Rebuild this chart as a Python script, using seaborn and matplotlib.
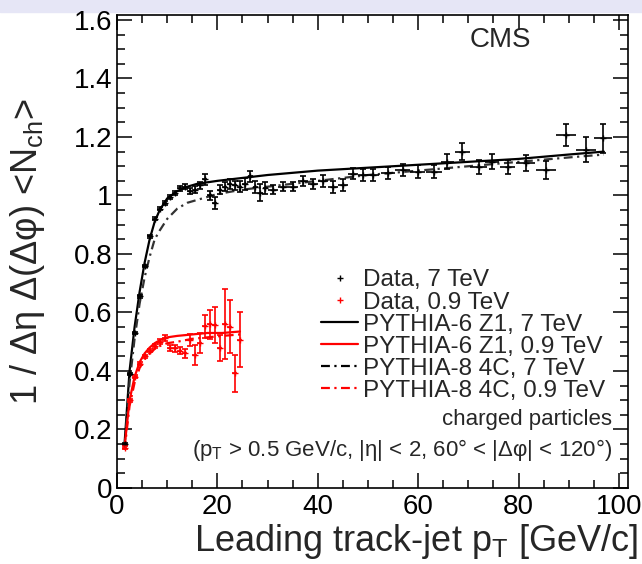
import seaborn as sns
import matplotlib.pyplot as plt
from matplotlib.lines import Line2D
from matplotlib.patches import Rectangle

# --- data, 7 TeV ---
pt_7 = [1.5, 2.5, 3.5, 4.5, 5.5, 6.5, 7.5, 8.5, 9.5, 10.5, 11.5, 12.5, 13.5, 14.5,
        15.5, 16.5, 17.5, 18.5, 19.5, 20.5, 21.5, 22.5, 23.5, 24.5, 25.5, 26.5,
        27.5, 28.5, 29.5, 31, 33, 35, 37, 39, 41, 43, 45, 47, 49, 51.0, 53.9,
        56.9, 59.9, 63.2, 65.8, 68.8, 72.1, 74.8, 77.8, 81.4, 85.4, 89.4, 93.4, 96.9]
dpt_7 = [0.5, 0.5, 0.5, 0.5, 0.5, 0.5, 0.5, 0.5, 0.5, 0.5, 0.5, 0.5, 0.5, 0.5,
         0.5, 0.5, 0.5, 0.5, 0.5, 0.5, 0.5, 0.5, 0.5, 0.5, 0.5, 0.5, 0.5, 0.5,
         0.5, 1.0, 1.0, 1.0, 1.0, 1.0, 1.0, 1.0, 1.0, 1.0, 1.0, 1.2, 1.4, 1.5,
         1.5, 1.6, 1.3, 1.5, 1.7, 1.4, 1.5, 1.9, 2.0, 2.0, 2.0, 1.8]
n_7 = [0.15, 0.39, 0.53, 0.655, 0.76, 0.86, 0.92, 0.955, 0.975, 0.995, 1.01, 1.025,
       1.03, 1.015, 1.02, 1.035, 1.055, 1.0, 0.975, 1.02, 1.03, 1.04, 1.035, 1.03,
       1.04, 1.065, 1.03, 1.01, 1.025, 1.02, 1.03, 1.03, 1.05, 1.04, 1.05, 1.03,
       1.035, 1.075, 1.07, 1.07, 1.078, 1.086, 1.081, 1.081, 1.116, 1.15, 1.098,
       1.116, 1.098, 1.11, 1.087, 1.207, 1.156, 1.196]
err_7 = [0.004, 0.004, 0.004, 0.004, 0.004, 0.005, 0.005, 0.005, 0.006, 0.006,
         0.007, 0.008, 0.009, 0.01, 0.011, 0.012, 0.02, 0.015, 0.02, 0.015, 0.015,
         0.018, 0.015, 0.018, 0.02, 0.02, 0.02, 0.03, 0.02, 0.015, 0.015, 0.015,
         0.018, 0.018, 0.02, 0.02, 0.02, 0.02, 0.02, 0.02, 0.02, 0.02, 0.022,
         0.022, 0.025, 0.028, 0.025, 0.025, 0.025, 0.028, 0.03, 0.037, 0.043, 0.05]

# --- data, 0.9 TeV ---
pt_09 = [1.5, 2.5, 3.5, 4.5, 5.5, 6.5, 7.5, 8.5, 9.5, 10.5, 11.5, 12.5, 13.5,
         14.5, 15.5, 16.5, 17.5, 18.5, 19.5, 20.5, 21.5, 22.5, 23.5, 24.5]
n_09 = [0.137, 0.30, 0.38, 0.425, 0.45, 0.47, 0.485, 0.50, 0.513, 0.48, 0.478,
        0.47, 0.46, 0.505, 0.455, 0.495, 0.553, 0.56, 0.557, 0.478, 0.56, 0.551,
        0.392, 0.506]
err_09 = [0.005, 0.005, 0.005, 0.005, 0.006, 0.006, 0.007, 0.008, 0.009, 0.01,
          0.012, 0.013, 0.015, 0.02, 0.034, 0.034, 0.04, 0.05, 0.063, 0.045, 0.12,
          0.09, 0.063, 0.094]

# --- PYTHIA curves ---
pt_mc_7 = [1.5, 2.5, 3.5, 4.5, 5.5, 6.5, 7.5, 8.5, 10, 12, 14, 16, 20, 25, 30, 40,
           50, 60, 70, 80, 90, 97]
z1_7 = [0.15, 0.40, 0.55, 0.67, 0.77, 0.85, 0.91, 0.95, 0.99, 1.015, 1.03, 1.04,
        1.05, 1.06, 1.07, 1.085, 1.095, 1.105, 1.115, 1.125, 1.14, 1.15]
c4_7 = [0.14, 0.36, 0.51, 0.63, 0.72, 0.79, 0.85, 0.88, 0.92, 0.955, 0.975, 0.985,
        1.005, 1.02, 1.03, 1.05, 1.07, 1.085, 1.10, 1.115, 1.13, 1.14]
pt_mc_09 = [1.5, 2.5, 3.5, 4.5, 5.5, 6.5, 7.5, 8.5, 10, 12, 15, 18, 21, 24.5]
z1_09 = [0.14, 0.30, 0.38, 0.43, 0.46, 0.48, 0.495, 0.505, 0.515, 0.52, 0.525,
         0.53, 0.53, 0.535]
c4_09 = [0.13, 0.28, 0.36, 0.41, 0.44, 0.46, 0.475, 0.485, 0.495, 0.50, 0.51,
         0.515, 0.52, 0.525]

x_ticks = [0, 20, 40, 60, 80, 100]
x_labels = ["0", "20", "40", "60", "80", "100"]
y_ticks = [0, 0.2, 0.4, 0.6, 0.8, 1.0, 1.2, 1.4, 1.6]
y_labels = ["0", "0.2", "0.4", "0.6", "0.8", "1", "1.2", "1.4", "1.6"]

sns.set_style("ticks")
plt.rcParams["font.family"] = ["Liberation Sans", "DejaVu Sans"]
plt.rcParams["mathtext.fontset"] = "custom"
plt.rcParams["mathtext.rm"] = "Liberation Sans"
plt.rcParams["mathtext.it"] = "Liberation Sans:italic"

fig = plt.figure(figsize=(6.42, 5.64), dpi=100)
# light band at the top of the screenshot
fig.patches.append(Rectangle((0, 1 - 12 / 564), 1, 12 / 564, transform=fig.transFigure,
                             color="#e6e6f6", zorder=-1))
ax = fig.add_axes([117 / 642, 1 - 488 / 564, 511 / 642, 473 / 564])

dash4c = (0, (4, 2, 1, 2))

# model curves
sns.lineplot(x=pt_mc_7, y=z1_7, ax=ax, color="black", lw=1.6, estimator=None, sort=False)
sns.lineplot(x=pt_mc_7, y=c4_7, ax=ax, color="#333333", lw=1.6, linestyle=dash4c,
             estimator=None, sort=False)
sns.lineplot(x=pt_mc_09, y=z1_09, ax=ax, color="red", lw=1.6, estimator=None, sort=False)
sns.lineplot(x=pt_mc_09, y=c4_09, ax=ax, color="red", lw=1.6, linestyle=dash4c,
             estimator=None, sort=False)

# data points
ax.errorbar(pt_7, n_7, yerr=err_7, fmt="+", color="black", ms=5, elinewidth=1.2,
            capsize=2, capthick=1.2, zorder=5)
ax.errorbar(pt_7, n_7, xerr=dpt_7, fmt="none", ecolor="black", elinewidth=1.2, zorder=5)
ax.errorbar(pt_09, n_09, yerr=err_09, fmt="+", color="red", ms=5, elinewidth=1.2,
            capsize=2, capthick=1.2, zorder=5)
ax.errorbar(pt_09, n_09, xerr=0.5, fmt="none", ecolor="red", elinewidth=1.2, zorder=5)

ax.set_xlim(0, 101.8)
ax.set_ylim(0, 1.617)
ax.set_xticks(x_ticks)
ax.set_xticklabels(x_labels)
ax.set_yticks(y_ticks)
ax.set_yticklabels(y_labels)
ax.set_xticks(range(0, 101, 5), minor=True)
ax.set_yticks([i * 0.05 for i in range(33)], minor=True)
ax.tick_params(which="both", direction="in", top=True, right=True, width=1.1,
               colors="black", labelsize=20)
ax.tick_params(which="major", length=11)
ax.tick_params(which="minor", length=5.5)
ax.tick_params(axis="x", pad=4)
for s in ax.spines.values():
    s.set_linewidth(1.2)
    s.set_color("black")

ax.set_xlabel(r"Leading track-jet p$_{\mathrm{T}}$ [GeV/c]", fontsize=26)
ax.xaxis.label.set_ha("right")
ax.xaxis.set_label_coords(1.02, -0.072)
ax.set_ylabel(r"1 / Δη Δ(Δφ) <N$_{\mathrm{ch}}$>", fontsize=26)
ax.yaxis.set_label_coords(-0.137, 0.5)

# legend (tight rows, like the ROOT original)
handles = [
    Line2D([], [], ls="none", marker="+", color="black", ms=5),
    Line2D([], [], ls="none", marker="+", color="red", ms=5),
    Line2D([], [], color="black", lw=1.6),
    Line2D([], [], color="red", lw=1.6),
    Line2D([], [], color="black", lw=1.6, ls=dash4c),
    Line2D([], [], color="red", lw=1.6, ls=dash4c),
]
labels = ["Data, 7 TeV", "Data, 0.9 TeV", "PYTHIA-6 Z1, 7 TeV", "PYTHIA-6 Z1, 0.9 TeV",
          "PYTHIA-8 4C, 7 TeV", "PYTHIA-8 4C, 0.9 TeV"]
ax.legend(handles, labels, loc="upper left", bbox_to_anchor=(0.400, 0.462),
          frameon=False, fontsize=17.5, handlelength=1.5, handletextpad=0.2,
          labelspacing=0.0, borderpad=0, borderaxespad=0)

ax.text(0.969, 0.145, "charged particles", transform=ax.transAxes, ha="right",
        va="center", fontsize=16)
ax.text(0.969, 0.080, r"(p$_{\mathrm{T}}$ > 0.5 GeV/c, |η| < 2, 60° < |Δφ| < 120°)",
        transform=ax.transAxes, ha="right", va="center", fontsize=16)
ax.text(0.75, 0.947, "CMS", transform=ax.transAxes, ha="center", va="center", fontsize=20)

fig.savefig("out.png", dpi=100)
